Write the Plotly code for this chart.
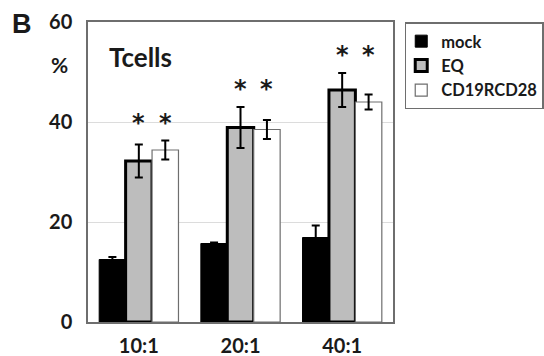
import plotly.graph_objects as go

# Effector:target ratios
ratios = ["10:1", "20:1", "40:1"]

# Percent lysis per condition (mean and error)
mock = [12.5, 15.7, 16.9]
mock_err = [0.5, 0.2, 2.4]
eq = [32.2, 38.9, 46.4]
eq_err = [3.3, 4.1, 3.4]
cd19rcd28 = [34.4, 38.5, 44.0]
cd19rcd28_err = [1.9, 1.9, 1.5]

FONT = "Lato"
INK = "#1a1a1a"
BARGAP = 0.22
slot = (1 - BARGAP) / 3  # width of each bar in category units

fig = go.Figure()
fig.add_bar(
    name="<b>mock</b>", x=ratios, y=mock,
    marker=dict(color="black", line=dict(color="black", width=1)),
    error_y=dict(type="data", array=mock_err, color="black", thickness=2, width=4),
)
fig.add_bar(
    name="<b>EQ</b>", x=ratios, y=eq,
    marker=dict(color="#bdbdbd", line=dict(color="black", width=3)),
    error_y=dict(type="data", array=eq_err, color="black", thickness=2, width=4),
)
fig.add_bar(
    name="<b>CD19RCD28</b>", x=ratios, y=cd19rcd28,
    marker=dict(color="white", line=dict(color="#6e6e6e", width=1.2)),
    error_y=dict(type="data", array=cd19rcd28_err, color="black", thickness=2, width=4),
)

# Significance stars above the EQ and CD19RCD28 bars of each group
annotations = []
for i in range(len(ratios)):
    top = max(eq[i] + eq_err[i], cd19rcd28[i] + cd19rcd28_err[i])
    for off in (0, slot):
        annotations.append(dict(
            x=i + off, y=top + 3.6, xref="x", yref="y",
            text="<b>*</b>", showarrow=False, yanchor="middle",
            font=dict(family="DejaVu Sans", size=24, color=INK),
        ))

annotations += [
    dict(x=0.063, y=0.885, xref="paper", yref="paper", text="<b>Tcells</b>",
         showarrow=False, xanchor="left", yanchor="middle",
         font=dict(family=FONT, size=26, color=INK)),
    dict(x=-0.095, y=0.86, xref="paper", yref="paper", text="<b>%</b>",
         showarrow=False, xanchor="center", yanchor="middle",
         font=dict(family=FONT, size=21, color=INK)),
    dict(x=-0.215, y=0.995, xref="paper", yref="paper", text="<b>B</b>",
         showarrow=False, xanchor="center", yanchor="middle",
         font=dict(family="Liberation Sans", size=27, color=INK)),
]

fig.update_layout(
    width=544, height=356,
    margin=dict(l=88, r=151, t=22, b=34, autoexpand=False),
    paper_bgcolor="white", plot_bgcolor="white",
    barmode="group", bargap=BARGAP, bargroupgap=0,
    font=dict(family=FONT, color=INK),
    showlegend=True,
    legend=dict(
        xref="container", yref="container",
        x=0.744, y=0.937, xanchor="left", yanchor="top",
        bordercolor="#6e6e6e", borderwidth=1.5,
        font=dict(family=FONT, size=16.5, color=INK),
        itemwidth=30, tracegroupgap=0, indentation=-5,
    ),
    annotations=annotations,
)
fig.update_xaxes(
    showline=True, linecolor="#6e6e6e", linewidth=1.5, mirror=True,
    showgrid=False, ticks="", ticklabelstandoff=5,
    tickfont=dict(family=FONT, size=20, color=INK, weight="bold"),
)
fig.update_yaxes(
    range=[0, 60], tickvals=[0, 20, 40, 60],
    showline=True, linecolor="#6e6e6e", linewidth=1.5, mirror=True,
    showgrid=True, gridcolor="#dcdcdc", gridwidth=1, zeroline=False,
    ticks="", ticklabelstandoff=10,
    tickfont=dict(family=FONT, size=20, color=INK, weight="bold"),
)

fig.write_html("out.html")
